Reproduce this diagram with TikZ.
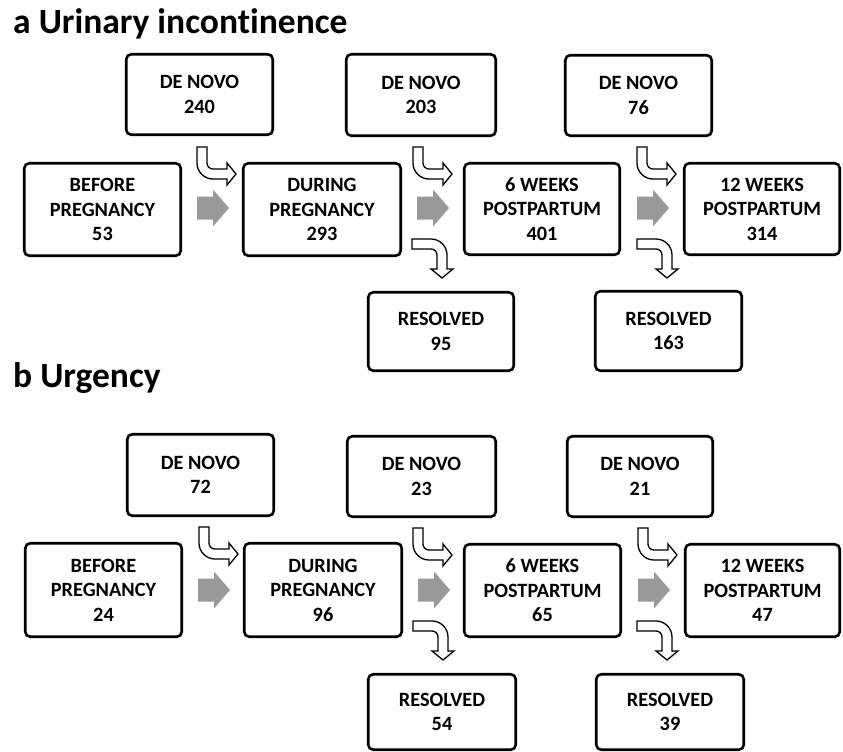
\documentclass[tikz,border=0pt]{standalone}
\usepackage{fontspec}
\setmainfont{Carlito}[Ligatures=NoCommon]
\begin{document}
\begin{tikzpicture}[x=1pt,y=-1pt,
  box/.style={draw=black, line width=2.6pt, rounded corners=5pt, fill=white,
    align=center, inner sep=0pt, font=\fontsize{20.3}{24.5}\selectfont\bfseries},
  title/.style={anchor=base west, inner sep=0pt, font=\fontsize{35.5}{40}\selectfont\bfseries},
  hollow/.style={draw=black, line width=1.3pt, fill=white, line join=miter},
  grayarrow/.style={fill=black!40, draw=none},
  downright/.pic={\path[hollow] (0,0) -- (0,16) .. controls (0,24.8) and (7.2,32) .. (16,32) -- (30,32) -- (30,38) -- (39,27) -- (30,16) -- (30,22) -- (16,22) .. controls (12.7,22) and (10,19.3) .. (10,16) -- (10,0) -- cycle;},
  rightdown/.pic={\path[hollow] (0,0) -- (19,0) .. controls (27.8,0) and (35,7.2) .. (35,16) -- (35,30) -- (41,30) -- (30,39) -- (19,30) -- (25,30) -- (25,16) .. controls (25,12.7) and (22.3,10) .. (19,10) -- (0,10) -- cycle;},
  fwd/.pic={\path[grayarrow] (0,-11.5) -- (16,-11.5) -- (16,-18.5) -- (32,0) -- (16,18.5) -- (16,11.5) -- (0,11.5) -- cycle;}
]
\useasboundingbox (0,0) rectangle (843,752);

% ---------------- panel a ----------------
\node[title] (ta) at (13,34) {a Urinary incontinence};

\node[box, minimum width=146.5pt, minimum height=80.5pt] (adn1) at (199.5,94.5) {DE NOVO\\240};
\node[box, minimum width=149.5pt, minimum height=81.5pt] (adn2) at (421,95) {DE NOVO\\203};
\node[box, minimum width=146.5pt, minimum height=80.5pt] (adn3) at (638.5,95.5) {DE NOVO\\76};

\node[box, minimum width=156.5pt, minimum height=92.5pt] (abef) at (102.5,209.5) {BEFORE\\PREGNANCY\\53};
\node[box, minimum width=157.5pt, minimum height=92.5pt] (adur) at (322,209.5) {DURING\\PREGNANCY\\293};
\node[box, minimum width=155.5pt, minimum height=91.5pt] (aw6) at (542,209) {6 WEEKS\\POSTPARTUM\\401};
\node[box, minimum width=155.5pt, minimum height=91.5pt] (aw12) at (762,209) {12 WEEKS\\POSTPARTUM\\314};

\node[box, minimum width=145.5pt, minimum height=78.5pt] (ares1) at (441,331.5) {RESOLVED\\95};
\node[box, minimum width=146.5pt, minimum height=79.5pt] (ares2) at (668.5,331) {RESOLVED\\163};

\pic at (197,147) {downright};
\pic at (413,147) {downright};
\pic at (637,147) {downright};
\pic at (412,239) {rightdown};
\pic at (637,239) {rightdown};
\pic at (197,208) {fwd};
\pic at (417,208) {fwd};
\pic at (637,208) {fwd};

% ---------------- panel b ----------------
\node[title] (tb) at (13,387) {b Urgency};

\node[box, minimum width=146.5pt, minimum height=81.5pt] (bdn1) at (200.5,475) {DE NOVO\\72};
\node[box, minimum width=148.5pt, minimum height=80.5pt] (bdn2) at (421.5,476.5) {DE NOVO\\23};
\node[box, minimum width=145.5pt, minimum height=80.5pt] (bdn3) at (640,476.5) {DE NOVO\\21};

\node[box, minimum width=156.5pt, minimum height=93.5pt] (bbef) at (103.5,590) {BEFORE\\PREGNANCY\\24};
\node[box, minimum width=157.5pt, minimum height=93.5pt] (bdur) at (323,590) {DURING\\PREGNANCY\\96};
\node[box, minimum width=156.5pt, minimum height=92.5pt] (bw6) at (542.5,590.5) {6 WEEKS\\POSTPARTUM\\65};
\node[box, minimum width=154.5pt, minimum height=92.5pt] (bw12) at (762.5,590.5) {12 WEEKS\\POSTPARTUM\\47};

\node[box, minimum width=147.5pt, minimum height=75.5pt] (bres1) at (442,712) {RESOLVED\\54};
\node[box, minimum width=147.5pt, minimum height=75.5pt] (bres2) at (670,712) {RESOLVED\\39};

\pic at (199,527) {downright};
\pic at (413,528) {downright};
\pic at (638,528) {downright};
\pic at (413,621) {rightdown};
\pic at (637,621) {rightdown};
\pic at (198,590) {fwd};
\pic at (418,590) {fwd};
\pic at (638,590) {fwd};
\end{tikzpicture}
\end{document}
